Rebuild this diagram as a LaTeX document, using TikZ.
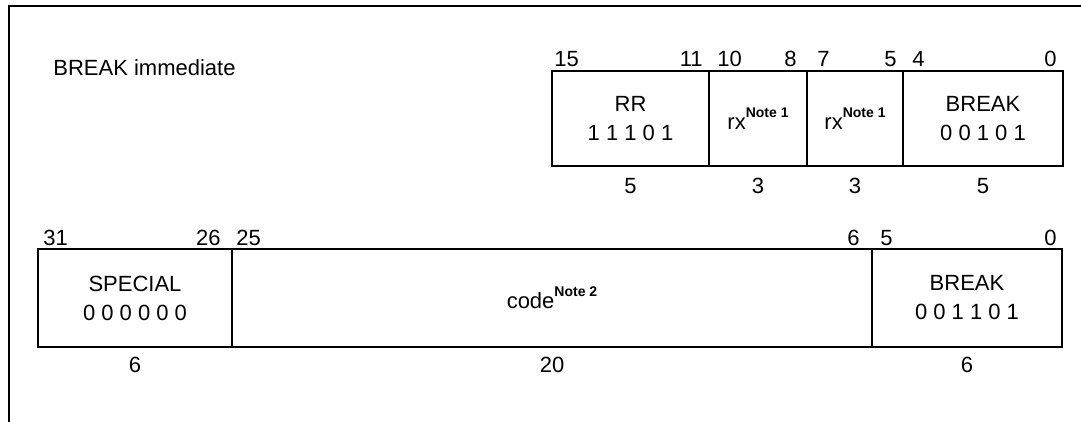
\documentclass[tikz,border=0pt]{standalone}
\usepackage{fontspec}
\setmainfont{Liberation Sans}
\usetikzlibrary{positioning}
\newcommand{\notemark}[1]{\raisebox{5.8pt}{\fontsize{7}{8}\selectfont\bfseries Note #1}}
\tikzset{
  field/.style={
    rectangle,
    draw=black,
    line width=1.4pt,
    inner sep=0pt,
    outer sep=0pt,
    minimum height=47.5pt,
    anchor=north west,
    align=center,
    font=\fontsize{11}{14.5}\selectfont
  },
  bitnum/.style={
    inner sep=0pt,
    font=\fontsize{11}{12}\selectfont
  },
  frameline/.style={line width=1.4pt, black}
}

\begin{document}
\begin{tikzpicture}[x=0.5pt,y=-0.5pt]
\useasboundingbox (0,0) rectangle (1081,422);
\coordinate (fr) at (1081,6);
\coordinate (fc) at (9,6);
\coordinate (fb) at (9,422);
\draw[frameline] (fr) -- (fc) -- (fb);
\node[bitnum, anchor=base west] (title) at (53,76) {BREAK immediate};
% 16-bit form
\node[field, minimum width=78.5pt] (rr) at (552,71) {RR\\1 1 1 0 1};
\node[field, minimum width=49pt] (rxa) at (rr.north east) {rx\notemark{1}};
\node[field, minimum width=48pt] (rxb) at (rxa.north east) {rx\notemark{1}};
\node[field, minimum width=80pt] (brka) at (rxb.north east) {BREAK\\0 0 1 0 1};
\node[bitnum, anchor=base west] (n15) at (554,67) {15};
\node[bitnum, anchor=base east] (n11) at (703,67) {11};
\node[bitnum, anchor=base west] (n10) at (717,67) {10};
\node[bitnum, anchor=base east] (n8) at (797,67) {8};
\node[bitnum, anchor=base west] (n7) at (817,67) {7};
\node[bitnum, anchor=base east] (n5) at (897,67) {5};
\node[bitnum, anchor=base west] (n4) at (912,67) {4};
\node[bitnum, anchor=base east] (n0) at (1057,67) {0};
\node[bitnum] (wrr) at (630.5,186) {5};
\node[bitnum] (wrxa) at (758,186) {3};
\node[bitnum] (wrxb) at (855,186) {3};
\node[bitnum] (wbrka) at (983,186) {5};
% 32-bit form
\node[field, minimum width=97pt, minimum height=49pt] (spec) at (38,249) {SPECIAL\\0 0 0 0 0 0};
\node[field, minimum width=320pt, minimum height=49pt] (code) at (spec.north east) {code\notemark{2}};
\node[field, minimum width=95pt, minimum height=49pt] (brkb) at (code.north east) {BREAK\\0 0 1 1 0 1};
\node[bitnum, anchor=base west] (m31) at (43,246) {31};
\node[bitnum, anchor=base east] (m26) at (221,246) {26};
\node[bitnum, anchor=base west] (m25) at (236,246) {25};
\node[bitnum, anchor=base east] (m6) at (860,246) {6};
\node[bitnum, anchor=base west] (m5) at (880,246) {5};
\node[bitnum, anchor=base east] (m0) at (1057,246) {0};
\node[bitnum] (wspec) at (135,365) {6};
\node[bitnum] (wcode) at (552,365) {20};
\node[bitnum] (wbrkb) at (967,365) {6};
\end{tikzpicture}
\end{document}
